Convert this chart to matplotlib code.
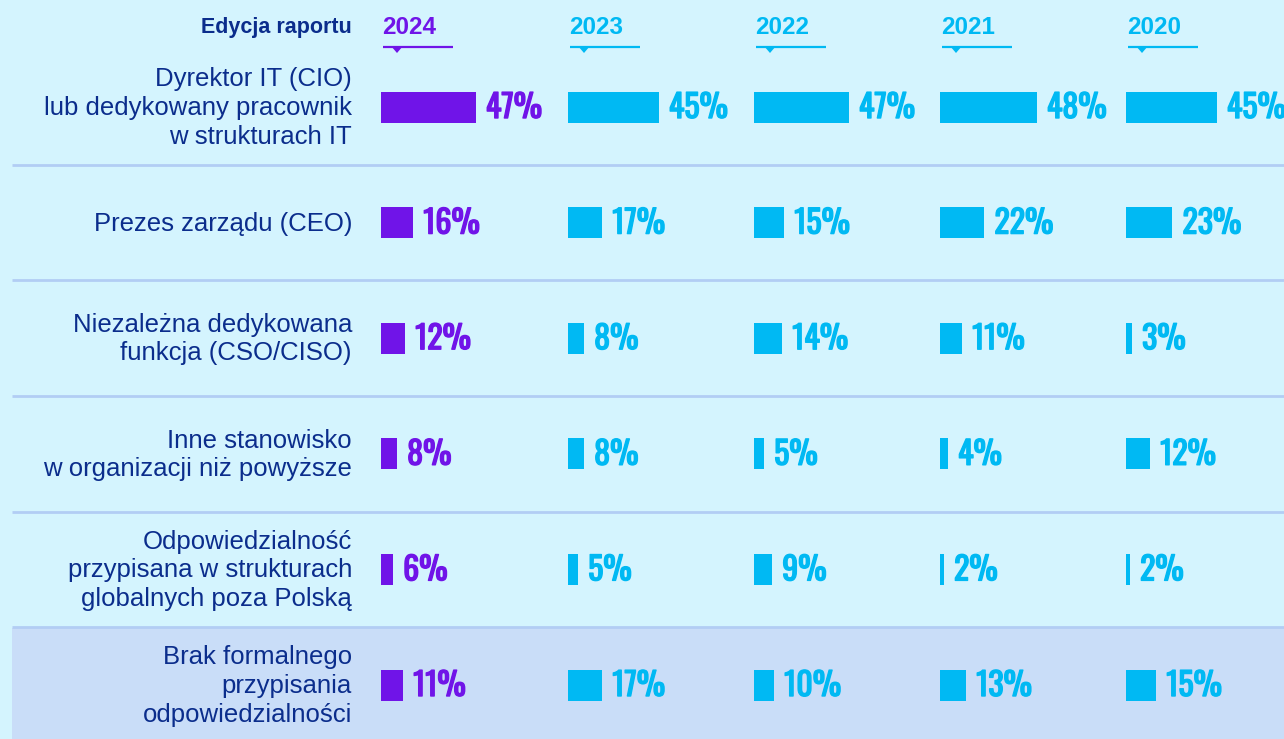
import numpy as np
import matplotlib
matplotlib.use("Agg")
import matplotlib.pyplot as plt
from matplotlib.patches import Rectangle, Polygon
import matplotlib.patheffects as pe

# data
years = ["2024", "2023", "2022", "2021", "2020"]
categories = [
    "Dyrektor IT (CIO)\nlub dedykowany pracownik\nw strukturach IT",
    "Prezes zarządu (CEO)",
    "Niezależna dedykowana\nfunkcja (CSO/CISO)",
    "Inne stanowisko\nw organizacji niż powyższe",
    "Odpowiedzialność\nprzypisana w strukturach\nglobalnych poza Polską",
    "Brak formalnego\nprzypisania\nodpowiedzialności",
]
v2024 = [47, 16, 12, 8, 6, 11]
v2023 = [45, 17, 8, 8, 5, 17]
v2022 = [47, 15, 14, 5, 9, 10]
v2021 = [48, 22, 11, 4, 2, 13]
v2020 = [45, 23, 3, 12, 2, 15]
values = [v2024, v2023, v2022, v2021, v2020]

# styling
BG = "#d4f4fe"
BAND = "#c9ddf8"
SEP = "#b2cdf4"
NAVY = "#0b2d8c"
PURPLE = "#7014e8"
CYAN = "#00b9f3"

W, H = 1284, 739
fig = plt.figure(figsize=(W / 100, H / 100), dpi=100, facecolor=BG)
ax = fig.add_axes([0, 0, 1, 1])
ax.set_xlim(0, W)
ax.set_ylim(H, 0)
ax.axis("off")
ax.set_facecolor(BG)

col_x = [381, 568, 754, 940, 1126]
scale = 2.02
row0, row_step = 107, 115.6
rows = row0 + row_step * np.arange(len(categories))

# highlighted last row band
ax.add_patch(Rectangle((12, rows[-1] - row_step / 2 + 0.5), W - 12, row_step,
                       facecolor=BAND, edgecolor="none", zorder=0))
# separators
for y in rows[:-1] + row_step / 2:
    ax.plot([12, W], [y, y], color=SEP, lw=2, zorder=1, solid_capstyle="butt")

label_font = ["Oswald", "Roboto Condensed", "DejaVu Sans"]
text_font = ["Liberation Sans", "DejaVu Sans"]

ax.text(352, 27, "Edycja raportu", ha="right", va="center", color=NAVY,
        fontsize=15.5, fontweight="bold", family=text_font)

for k, (yr, x0, vals) in enumerate(zip(years, col_x, values)):
    c = PURPLE if k == 0 else CYAN
    ax.text(x0 + 1, 28, yr, ha="left", va="center", color=c, fontsize=17.5,
            fontweight="bold", family=text_font)
    ax.plot([x0 + 2, x0 + 72], [47, 47], color=c, lw=1.6, solid_capstyle="butt")
    ax.add_patch(Polygon([[x0 + 10, 46], [x0 + 22, 46], [x0 + 16, 53]],
                         closed=True, facecolor=c, edgecolor="none"))
    w = np.array(vals) * scale
    ax.barh(rows, w, left=x0, height=31, color=c, zorder=2)
    for y, ww, v in zip(rows, w, vals):
        ax.text(x0 + ww + 10, y + 1, f"{v}%", ha="left", va="center", color=c,
                fontsize=23, family=label_font,
                path_effects=[pe.withStroke(linewidth=1.0, foreground=c)])

for y, cat in zip(rows, categories):
    ax.text(352, y + 1, cat, ha="right", va="center", color=NAVY, fontsize=18.5,
            family=text_font, linespacing=1.24)

fig.savefig("out.png", dpi=100, facecolor=BG)
